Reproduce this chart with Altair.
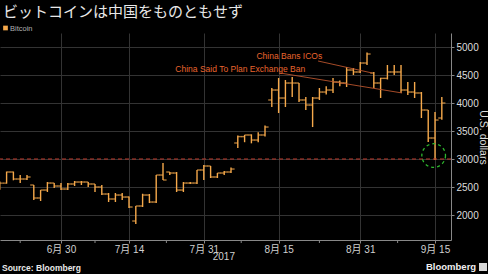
import altair as alt
import pandas as pd

# ---------------- data (business days, Jun 19 - Sep 18, 2017) ----------------
dates = ["06-19", "06-20", "06-21", "06-22", "06-23", "06-26", "06-27", "06-28", "06-29", "06-30",
         "07-03", "07-04", "07-05", "07-06", "07-07", "07-10", "07-11", "07-12", "07-13", "07-14",
         "07-17", "07-18", "07-19", "07-20", "07-21", "07-24", "07-25", "07-26", "07-27", "07-28", "07-31",
         "08-01", "08-02", "08-03", "08-04", "08-07", "08-08", "08-09", "08-10", "08-11",
         "08-14", "08-15", "08-16", "08-17", "08-18", "08-21", "08-22", "08-23", "08-24", "08-25",
         "08-28", "08-29", "08-30", "08-31", "09-01", "09-04", "09-05", "09-06", "09-07", "09-08",
         "09-11", "09-12", "09-13", "09-14", "09-15", "09-18"]
opens = [2520, 2570, 2768, 2643, 2643, 2536, 2304, 2446, 2571, 2518,
         2464, 2554, 2589, 2589, 2554, 2500, 2375, 2286, 2357, 2321,
         1893, 2161, 2357, 2232, 2714, 2768, 2750, 2446, 2571, 2571, 2804,
         2875, 2679, 2750, 2768, 3286, 3400, 3429, 3339, 3429,
         4054, 4232, 4089, 4357, 4357, 4054, 3964, 4089, 4196, 4232,
         4375, 4357, 4589, 4554, 4714, 4536, 4357, 4440, 4554, 4554,
         4232, 4196, 4179, 3875, 3375, 3732]
highs = [2600, 2775, 2775, 2714, 2714, 2536, 2446, 2589, 2571, 2571,
         2571, 2607, 2607, 2589, 2554, 2536, 2393, 2393, 2393, 2330,
         2161, 2380, 2375, 2714, 2929, 2768, 2768, 2589, 2589, 2804, 2893,
         2875, 2750, 2786, 2850, 3420, 3430, 3440, 3480, 3600,
         4268, 4446, 4411, 4464, 4357, 4107, 4107, 4268, 4300, 4446,
         4400, 4643, 4625, 4732, 4900, 4554, 4450, 4679, 4679, 4679,
         4375, 4375, 4196, 3875, 3839, 4107]
lows = [2450, 2560, 2620, 2571, 2625, 2268, 2250, 2411, 2482, 2446,
        2446, 2518, 2536, 2500, 2411, 2357, 2232, 2232, 2268, 2125,
        1839, 2143, 2214, 2214, 2625, 2714, 2411, 2411, 2554, 2554, 2625,
        2661, 2661, 2714, 2750, 3196, 3300, 3280, 3300, 3400,
        3929, 3821, 3929, 4107, 4018, 3875, 3571, 4054, 4150, 4179,
        4300, 4286, 4500, 4536, 4679, 4268, 4090, 4420, 4500, 4179,
        4143, 4089, 3732, 3304, 2982, 3700]
closes = [2570, 2768, 2643, 2643, 2679, 2304, 2446, 2571, 2518, 2464,
          2554, 2589, 2589, 2554, 2500, 2375, 2286, 2357, 2321, 2143,
          2161, 2357, 2232, 2714, 2625, 2750, 2446, 2571, 2571, 2804, 2875,
          2679, 2750, 2768, 2821, 3400, 3429, 3339, 3429, 3571,
          4232, 4089, 4357, 4357, 4054, 3964, 4089, 4196, 4232, 4375,
          4357, 4589, 4554, 4714, 4875, 4357, 4440, 4554, 4554, 4232,
          4196, 4179, 3875, 3375, 3696, 4000]

major_idx = [9, 19, 30, 41, 53, 64]
major_labels = ["6月 30", "7月 14", "7月 31", "8月 15", "8月 31", "9月 15"]
minor_idx = [3, 14, 24.5, 35.5, 47, 58.5]
y_ticks = [2000, 2500, 3000, 3500, 4000, 4500, 5000]
x_domain = [0.03, 66.35]
y_domain = [1554, 5250]

ref_level = [3000]
circle_i = [63.8]
circle_p = [3062]

ann_text = ["China Bans ICOs", "China Said To Plan Exchange Ban"]
ann_text_i = [47.4, 44.9]
ann_text_p = [4839, 4607]
ann_line_i1 = [46.8, 41.2]
ann_line_p1 = [4750, 4536]
ann_line_i2 = [54.75, 59.15]
ann_line_p2 = [4536, 4179]

title_text = "ビットコインは中国をものともせず"
legend_text = "Bitcoin"
source_text = "Source: Bloomberg"
brand_text = "Bloomberg"
year_text = "2017"

# ---------------- build ----------------
ORANGE = "#f6a94b"
GRID = "#333333"
FONT = "Liberation Sans, Noto Sans CJK JP"

df = pd.DataFrame({"i": list(range(len(dates))), "date": dates, "open": opens,
                   "high": highs, "low": lows, "close": closes})

xs = alt.Scale(domain=x_domain, nice=False, zero=False)
ys = alt.Scale(domain=y_domain, nice=False, zero=False)

expr = " : ".join([f"datum.value == {v} ? '{l}'" for v, l in zip(major_idx, major_labels)]) + " : ''"

x_axis = alt.Axis(values=major_idx, labelExpr=expr, grid=True, gridColor=GRID, gridWidth=1,
                  domainColor="#888888", tickColor="#888888", tickSize=3, labelPadding=1,
                  labelColor="#d0d0d0", labelFontSize=10, labelFont=FONT, title=None,
                  labelFlush=False, labelOverlap=False)
y_axis = alt.Axis(orient="right", values=y_ticks, format="d", grid=True, gridColor=GRID,
                  domainColor="#888888", tickColor="#888888", tickSize=3, labelPadding=2,
                  labelColor="#dddddd", labelFontSize=10, labelFont=FONT,
                  title="U.S. dollars", titleColor="#dddddd", titleFontSize=10.5,
                  titleFont=FONT, titleFontWeight="normal", titleAngle=90,
                  titleX=31, titleY=104, titleAlign="center", titleBaseline="middle")


def X(field):
    return alt.X(field, type="quantitative", scale=xs, axis=x_axis)


def Y(field):
    return alt.Y(field, type="quantitative", scale=ys, axis=y_axis)


base = alt.Chart(df)

hl = base.mark_rule(color=ORANGE, strokeWidth=1.4).encode(x=X("i"), y=Y("low"), y2="high:Q")
op = base.mark_tick(orient="horizontal", size=3.6, thickness=1.4, xOffset=-1.8,
                    color=ORANGE).encode(x=X("i"), y=Y("open"))
cl = base.mark_tick(orient="horizontal", size=3.6, thickness=1.4, xOffset=1.8,
                    color=ORANGE).encode(x=X("i"), y=Y("close"))

ref = alt.Chart(pd.DataFrame({"v": ref_level})).mark_rule(
    color="#c0392b", strokeDash=[4, 3], strokeWidth=1).encode(y=Y("v"))

minor = alt.Chart(pd.DataFrame({"m": minor_idx})).mark_rule(color="#888888", strokeWidth=1).encode(
    x=X("m"), y=alt.value(207), y2=alt.value(210))

circ = alt.Chart(pd.DataFrame({"ci": circle_i, "cp": circle_p})).mark_point(
    shape="circle", size=560, filled=False, stroke="#2eb82e", strokeWidth=1.3,
    strokeDash=[3, 3], opacity=1).encode(x=X("ci"), y=Y("cp"))

ann_df = pd.DataFrame({"t": ann_text, "ti": ann_text_i, "tp": ann_text_p,
                       "i1": ann_line_i1, "p1": ann_line_p1, "i2": ann_line_i2, "p2": ann_line_p2})
ann_lines = alt.Chart(ann_df).mark_rule(color="#b8532c", strokeWidth=0.9).encode(
    x=X("i1"), x2="i2:Q", y=Y("p1"), y2="p2:Q")
ann_labels = alt.Chart(ann_df).mark_text(align="right", baseline="middle", fontSize=8.5,
                                         font=FONT, color="#e8652e").encode(
    x=X("ti"), y=Y("tp"), text="t:N")


def txt(text, x, y, size, color, weight="normal", align="left", font=FONT):
    return alt.Chart(pd.DataFrame({"s": [text]})).mark_text(
        align=align, baseline="middle", fontSize=size, color=color, fontWeight=weight,
        font=font).encode(x=alt.value(x), y=alt.value(y), text="s:N")


title = txt(title_text, 3, -21, 15, "#e8e8e8", font="Noto Sans CJK JP")
leg_sq = alt.Chart(pd.DataFrame({"s": [legend_text]})).mark_square(
    color=ORANGE, size=22, opacity=1).encode(x=alt.value(5.5), y=alt.value(-5))
leg_tx = txt(legend_text, 10, -4.5, 7.5, "#b0b0b0")
src = txt(source_text, 2, 235, 8.5, "#e8e8e8", weight="bold")
brand = txt(brand_text, 426, 234, 9.5, "#f0f0f0", weight="bold")
icon = alt.Chart(pd.DataFrame({"s": [brand_text]})).mark_square(
    color="#d8d8d8", size=64, opacity=1).encode(x=alt.value(483), y=alt.value(234))
year = txt(year_text, 235, 224, 10, "#d0d0d0", align="right")

chart = alt.layer(
    hl, op, cl, ref, circ, ann_lines, ann_labels, minor,
    title, leg_sq, leg_tx, src, brand, icon, year
).properties(
    width=451, height=207,
    autosize=alt.AutoSizeParams(type="none"),
    padding={"left": 0, "top": 33, "right": 37, "bottom": 34},
    background="#000000",
).configure_view(stroke=None)

chart.save("out.html", embed_options={"renderer": "svg", "actions": False})
